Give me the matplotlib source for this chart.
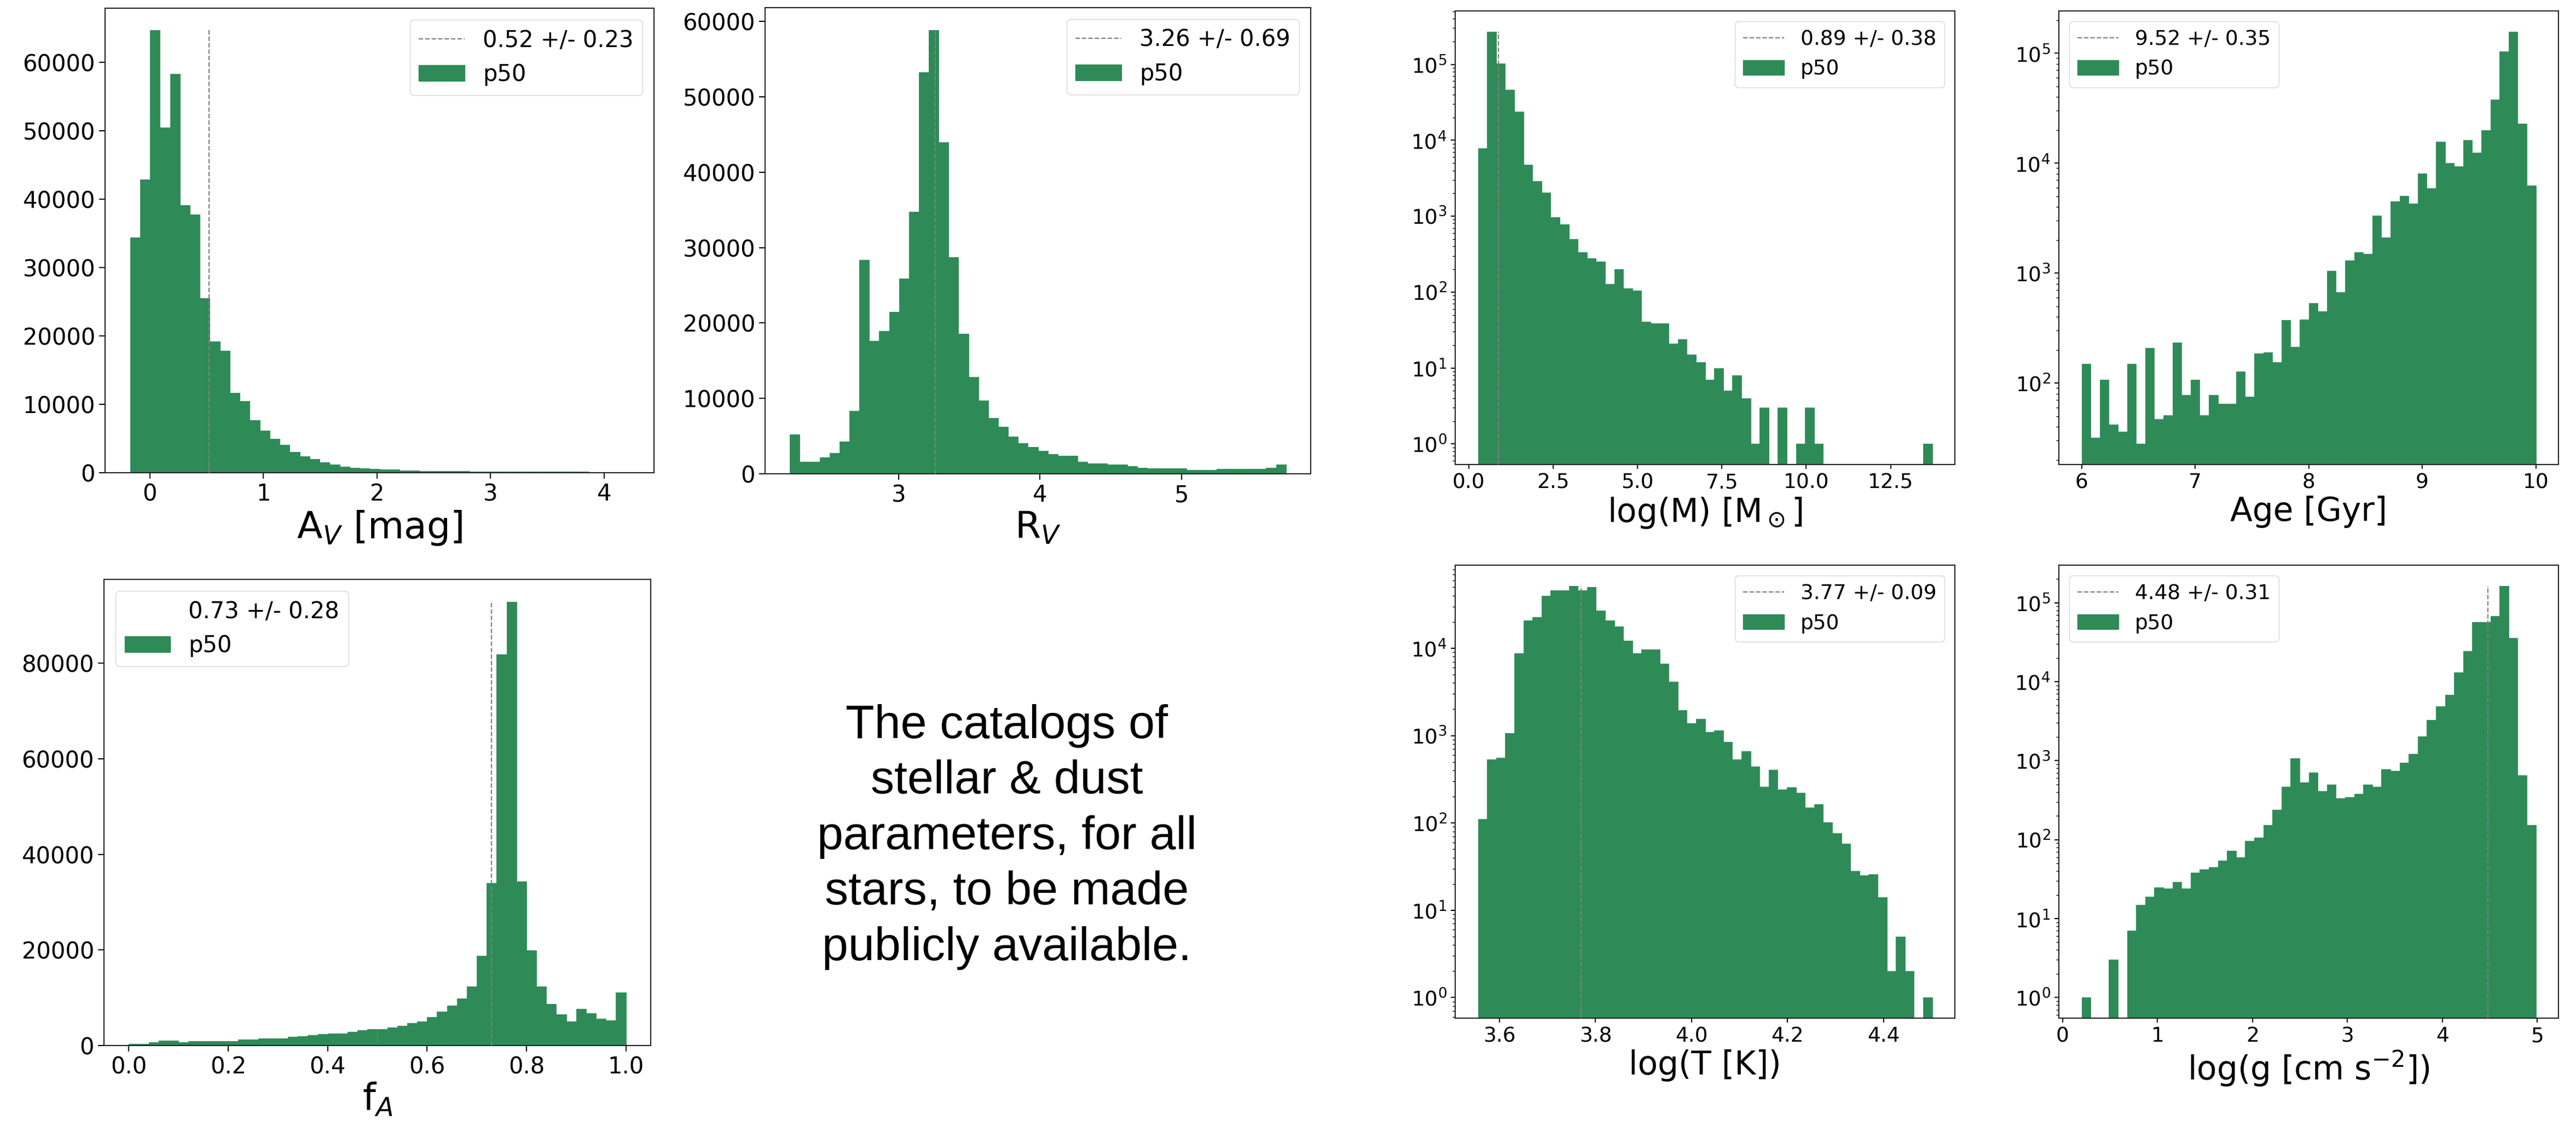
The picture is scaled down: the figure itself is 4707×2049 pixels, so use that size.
import numpy as np
import matplotlib
matplotlib.use("Agg")
import matplotlib.pyplot as plt
from matplotlib.lines import Line2D
from matplotlib.patches import Patch

GREEN = "#2e8b57"
W, H = 4707, 2049

# ---------------- data ----------------
# A_V [mag]
av_range = (-0.174, 4.219)
av_counts = [34360, 42880, 64670, 50480, 58340, 39080, 37760, 25490, 19160, 17840,
             11710, 10440, 7700, 6180, 4970, 4100, 3040, 2380, 1980, 1520,
             1170, 910, 710, 660, 560, 500, 450, 330, 300, 270,
             250, 230, 210, 200, 190, 180, 170, 160, 150, 150,
             140, 140, 130, 130, 120, 120, 110, 110, 100, 100]
av_stat = (0.52, 0.23)

# R_V
rv_range = (2.233, 5.737)
rv_counts = [5260, 1610, 1610, 2210, 2770, 4290, 8350, 28410, 17670, 18960,
             21490, 25880, 34780, 53270, 58900, 44000, 28780, 18590, 12820, 9730,
             7430, 6270, 4940, 4100, 3550, 3040, 2580, 2400, 2400, 1610,
             1380, 1380, 1200, 1200, 1010, 830, 690, 690, 690, 690,
             510, 510, 510, 650, 650, 650, 650, 650, 830, 1200]
rv_stat = (3.26, 0.69)

# f_A
fa_range = (0.0, 1.0)
fa_counts = [310, 380, 690, 1000, 1000, 690, 920, 920, 920, 920,
             920, 1230, 1230, 1530, 1530, 1530, 1840, 1990, 2200, 2380,
             2480, 2480, 2860, 3170, 3440, 3440, 3780, 4090, 4660, 5000,
             5920, 7140, 8360, 9850, 12330, 18790, 34020, 81900, 92900, 34330,
             19970, 12330, 8670, 6530, 5040, 7710, 6800, 5610, 5270, 11070]
fa_stat = (0.73, 0.28)

# log(M)
m_range = (0.274, 13.73)
m_counts = [7870, 270000, 102000, 46500, 23700, 4750, 2900, 2050, 964, 780,
            497, 337, 279, 251, 127, 199, 112, 105, 41, 39,
            39, 21, 24, 15, 12, 7, 10, 5, 8, 4,
            1, 3, 0, 3, 0, 1, 3, 1, 0, 0,
            0, 0, 0, 0, 0, 0, 0, 0, 0, 1]
m_stat = (0.89, 0.38)

# Age
age_range = (6.0, 10.0)
age_counts = [149, 32, 107, 42, 36, 149, 28, 209, 47, 51,
              235, 78, 107, 51, 78, 65, 65, 128, 75, 185,
              190, 154, 374, 214, 380, 531, 449, 1050, 670, 1307,
              1556, 1500, 3317, 2113, 4500, 5060, 4270, 8050, 5930, 15600,
              10000, 9380, 16200, 12400, 20000, 37900, 103300, 157000, 22800, 6290]
age_stat = (9.52, 0.35)

# log(T)
t_range = (3.5548, 4.5014)
t_counts = [111, 536, 557, 1061, 8710, 20700, 22600, 39800, 46000, 46000,
            52000, 46300, 49900, 27200, 20700, 17900, 12200, 8710, 9750, 9750,
            6660, 4170, 1970, 1390, 1556, 1100, 1151, 844, 533, 666,
            440, 259, 405, 240, 256, 220, 151, 163, 102, 76,
            58, 28, 25, 26, 14, 2, 5, 2, 0, 1]
t_stat = (3.77, 0.09)

# log(g)
g_range = (0.2, 4.983)
g_counts = [1, 0, 0, 3, 0, 7, 15, 19, 25, 24,
            29, 24, 38, 42, 45, 54, 72, 60, 97, 106,
            153, 239, 466, 1073, 529, 703, 414, 501, 335, 346,
            377, 501, 466, 782, 742, 946, 1220, 2030, 3270, 4890,
            6860, 13100, 24400, 57000, 57000, 68200, 164000, 35800, 653, 153]
g_stat = (4.48, 0.31)

caption_lines = ["The catalogs of", "stellar & dust", "parameters, for all",
                 "stars, to be made", "publicly available."]

# ---------------- figure ----------------
fig = plt.figure(figsize=(W / 100, H / 100), dpi=100)
fig.patch.set_facecolor("white")


def axes_px(left, top, right, bottom):
    return fig.add_axes([left / W, 1 - bottom / H, (right - left) / W, (bottom - top) / H])


def panel(ax, rng, counts, stat, log, loc, xlabel, xticks, yticks=None,
          small=False, draw_vline=True, legend_line=True):
    counts = np.asarray(counts, dtype=float)
    edges = np.linspace(rng[0], rng[1], len(counts) + 1)
    ax.bar(edges[:-1], counts, width=np.diff(edges), align="edge",
           color=GREEN, edgecolor=GREEN, linewidth=0.6, zorder=2)
    if log:
        ax.set_yscale("log")
        pos = counts[counts > 0]
        l0, l1 = np.log10(pos.min()), np.log10(pos.max())
        pad = 0.05 * (l1 - l0)
        ymin, ymax = 10 ** (l0 - pad), 10 ** (l1 + pad)
        ax.set_ylim(ymin, ymax)
        vbottom = ymin
    else:
        vbottom = 0
    med, std = stat
    if draw_vline:
        ax.vlines(med, vbottom, counts.max(), colors="gray", linestyles="--",
                  linewidth=1.6, zorder=3)
    ax.set_xticks(xticks)
    if yticks is not None:
        ax.set_yticks(yticks)
    tfs = 27 if small else 30
    lfs = 43 if small else 49
    ax.tick_params(axis="both", which="major", labelsize=tfs,
                   length=6 if small else 8, width=1.5, pad=5)
    ax.tick_params(axis="both", which="minor", length=3.5, width=1.0)
    for sp in ax.spines.values():
        sp.set_linewidth(1.5)
        sp.set_color("#222222")
    ax.set_xlabel(xlabel, fontsize=lfs, labelpad=4)
    if legend_line:
        h0 = Line2D([], [], color="gray", linestyle="--", linewidth=1.6)
    else:
        h0 = Line2D([], [], linestyle="none")
    h1 = Patch(facecolor=GREEN, edgecolor=GREEN)
    ax.legend([h0, h1], [f"{med:.2f} +/- {std:.2f}", "p50"], loc=loc,
              fontsize=tfs, framealpha=0.8, edgecolor="0.8")


ax_av = axes_px(192, 15, 1195, 864)
panel(ax_av, av_range, av_counts, av_stat, False, "upper right",
      r"A$_V$ [mag]", [0, 1, 2, 3, 4], np.arange(0, 60001, 10000))

ax_rv = axes_px(1398, 14, 2395, 866)
panel(ax_rv, rv_range, rv_counts, rv_stat, False, "upper right",
      r"R$_V$", [3, 4, 5], np.arange(0, 60001, 10000))

ax_fa = axes_px(190, 1059, 1189, 1911)
panel(ax_fa, fa_range, fa_counts, fa_stat, False, "upper left",
      r"f$_A$", np.arange(0, 1.01, 0.2), np.arange(0, 80001, 20000),
      legend_line=False)

ax_m = axes_px(2659, 20, 3572, 849)
panel(ax_m, m_range, m_counts, m_stat, True, "upper right",
      r"log(M) [M$_\odot$]", np.arange(0, 12.6, 2.5), small=True)

ax_age = axes_px(3762, 20, 4675, 849)
panel(ax_age, age_range, age_counts, age_stat, True, "upper left",
      "Age [Gyr]", [6, 7, 8, 9, 10], small=True, draw_vline=False)

ax_t = axes_px(2659, 1033, 3572, 1861)
panel(ax_t, t_range, t_counts, t_stat, True, "upper right",
      "log(T [K])", np.arange(3.6, 4.41, 0.2), small=True)

ax_g = axes_px(3762, 1033, 4675, 1861)
panel(ax_g, g_range, g_counts, g_stat, True, "upper left",
      r"log(g [cm s$^{-2}$])", [0, 1, 2, 3, 4, 5], small=True)

# caption text
for i, line in enumerate(caption_lines):
    fig.text(1840 / W, 1 - (1349 + 101.4 * i) / H, line, ha="center", va="baseline",
             fontsize=62, family=["Liberation Sans", "DejaVu Sans"], color="black")

fig.savefig("out.png", dpi=100, facecolor="white")
